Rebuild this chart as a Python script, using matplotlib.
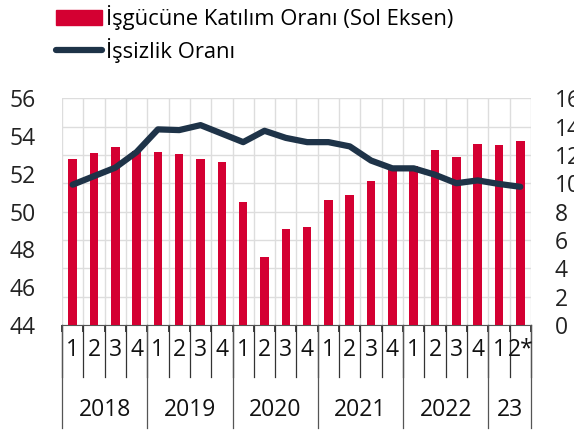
import numpy as np
import matplotlib.pyplot as plt
import matplotlib.transforms as mtransforms
from matplotlib.lines import Line2D
from matplotlib.patches import Patch

plt.rcParams['font.family'] = ['Open Sans', 'DejaVu Sans']

# veriler
ceyrekler = ['1', '2', '3', '4'] * 5 + ['1', '2*']
yillar = ['2018', '2019', '2020', '2021', '2022', '23']
yil_sinirlari = [0, 4, 8, 12, 16, 20, 22]
katilim = [52.8, 53.1, 53.4, 53.2, 53.15, 53.05, 52.8, 52.6, 50.5, 47.6, 49.1,
           49.2, 50.6, 50.9, 51.6, 52.3, 52.4, 53.25, 52.9, 53.6, 53.5, 53.75]
issizlik = [9.9, 10.5, 11.1, 12.2, 13.8, 13.75, 14.1, 13.5, 12.9, 13.7, 13.2,
            12.9, 12.9, 12.6, 11.6, 11.05, 11.05, 10.6, 10.0, 10.2, 9.95, 9.75]

kirmizi = '#D40032'
lacivert = '#1E3348'
n = len(katilim)
x = np.arange(n)

fig = plt.figure(figsize=(5.74, 4.32), dpi=100)
ax = fig.add_axes([0.108, 0.2477, 0.817, 0.525])
ax2 = ax.twinx()

ax.set_ylim(44, 56)
ax.set_yticks(np.arange(44, 57, 2))
ax.set_xlim(-0.5, n - 0.5)
ax2.set_ylim(0, 16)
ax2.set_yticks(np.arange(0, 17, 2))

# izgara (sag eksenin tiklerine gore)
for y in ax2.get_yticks():
    ax.axhline(44 + y * 12 / 16, color='#DDDDDD', lw=1, zorder=0)
for b in np.arange(-0.5, n, 1):
    ax.axvline(b, color='#DDDDDD', lw=1, zorder=0)

ax.bar(x, [v - 44 for v in katilim], bottom=44, width=0.4, color=kirmizi, zorder=3)
ax2.plot(x, issizlik, color=lacivert, lw=4.5, solid_capstyle='round', zorder=4)

for a in (ax, ax2):
    for s in ['top', 'left', 'right', 'bottom']:
        a.spines[s].set_visible(False)
ax.spines['bottom'].set_visible(True)
ax.spines['bottom'].set_color('#555555')

ax.tick_params(axis='y', length=0, labelsize=16.5, pad=19, colors='#222222')
ax2.tick_params(axis='y', length=0, labelsize=16.5, pad=17, colors='#222222')
ax.set_xticks(np.arange(-0.5, n, 1))
ax.set_xticklabels([])
ax.tick_params(axis='x', length=5, width=1.2, color='#222222')

# x ekseni etiketleri
tr = mtransforms.blended_transform_factory(ax.transData, ax.transAxes)
for i, lab in enumerate(ceyrekler):
    ax.text(i, -0.11, lab, transform=tr, ha='center', va='center',
            fontsize=16.5, color='#111111')
for b in np.arange(-0.5, n, 1):
    ax.plot([b, b], [0, -0.23], transform=tr, color='#333333', lw=0.9,
            clip_on=False)
for k, yl in enumerate(yillar):
    a0, a1 = yil_sinirlari[k], yil_sinirlari[k + 1]
    ax.text((a0 + a1) / 2 - 0.5, -0.375, yl, transform=tr, ha='center',
            va='center', fontsize=16.5, color='#111111')
for b in yil_sinirlari:
    ax.plot([b - 0.5, b - 0.5], [0, -0.454], transform=tr, color='#555555',
            lw=0.9, clip_on=False)

# lejant
handles = [Patch(color=kirmizi), Line2D([0], [0], color=lacivert, lw=4.5,
                                        solid_capstyle='round')]
fig.legend(handles, ['İşgücüne Katılım Oranı (Sol Eksen)', 'İşsizlik Oranı'],
           loc='upper left', bbox_to_anchor=(0.0815, 1.008), frameon=False,
           fontsize=15.8, handlelength=2.1, handletextpad=0.2, labelspacing=0.34,
           borderaxespad=0)

fig.savefig('out.png', dpi=100)
